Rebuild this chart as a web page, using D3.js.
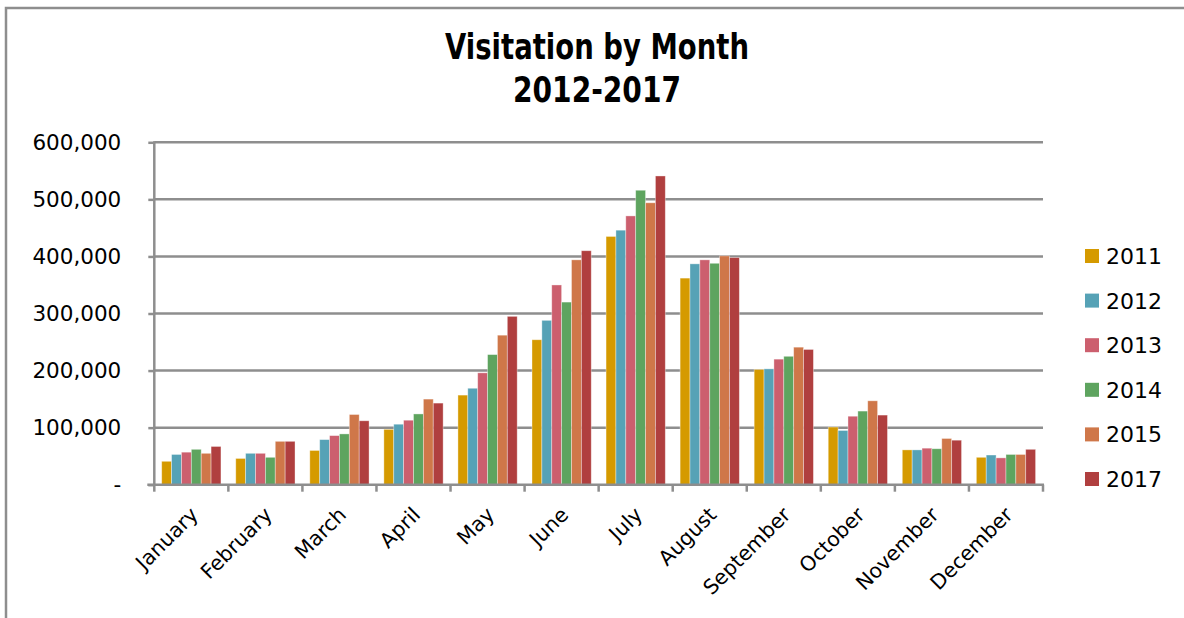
<!DOCTYPE html>
<html>
<head>
<meta charset="utf-8">
<script src="https://cdn.jsdelivr.net/npm/d3@7"></script>
<style>
  body { margin: 0; background: #fff; }
  svg { display: block; }
  .ylab, .xlab, .leg { font-family: "DejaVu Sans", sans-serif; fill: #000; }
  .title { font-family: "DejaVu Sans", sans-serif; font-weight: bold; font-size: 35px; }
</style>
</head>
<body>
<div id="chart"></div>
<script>
(function(){

  //chart data
  var months = ["January", "February", "March", "April", "May", "June", "July",
                "August", "September", "October", "November", "December"];
  var years = ["2011", "2012", "2013", "2014", "2015", "2017"];
  var v2011 = [41000, 46000, 60000, 97000, 157000, 254000, 435000, 362000, 202000, 101000, 61000, 48000];
  var v2012 = [53000, 55000, 79000, 106000, 169000, 288000, 446000, 387000, 203000, 95000, 61000, 52000];
  var v2013 = [57000, 55000, 86000, 113000, 196000, 350000, 471000, 394000, 220000, 120000, 64000, 47000];
  var v2014 = [62000, 48000, 89000, 124000, 228000, 320000, 516000, 388000, 225000, 129000, 63000, 53000];
  var v2015 = [55000, 76000, 123000, 150000, 262000, 394000, 494000, 401000, 241000, 147000, 81000, 53000];
  var v2017 = [67000, 76000, 112000, 143000, 295000, 410000, 541000, 398000, 237000, 122000, 78000, 62000];
  var yTicks = [0, 100000, 200000, 300000, 400000, 500000, 600000];
  var colors = ["#d59a00", "#56a2b6", "#cc5f6e", "#5ea45f", "#cf7749", "#b03f3f"];

  var series = [v2011, v2012, v2013, v2014, v2015, v2017];

  var width = 1184, height = 618;
  var left = 154.3, right = 1043, top = 142.3, bottom = 484.7;

  var svg = d3.select("#chart").append("svg")
      .attr("width", width)
      .attr("height", height);

  //outer frame (only top and left edges visible)
  svg.append("path")
      .attr("d", "M6,620 L6,8 L1190,8")
      .attr("fill", "none")
      .attr("stroke", "#8e8e8e")
      .attr("stroke-width", 2.5);

  //title, squeezed to the condensed width of the original face
  var title = svg.append("text")
      .attr("class", "title")
      .attr("text-anchor", "middle");
  title.append("tspan").attr("x", 597).attr("y", 59)
      .attr("textLength", 304).attr("lengthAdjust", "spacingAndGlyphs")
      .text("Visitation by Month");
  title.append("tspan").attr("x", 597).attr("y", 102)
      .attr("textLength", 168).attr("lengthAdjust", "spacingAndGlyphs")
      .text("2012-2017");

  //scales
  var x = d3.scaleBand()
      .domain(months)
      .range([left, right])
      .paddingInner(0.2)
      .paddingOuter(0.1);

  var xInner = d3.scaleBand()
      .domain(years)
      .range([0, x.bandwidth()]);

  var y = d3.scaleLinear()
      .domain([0, 600000])
      .range([bottom, top]);

  //gridlines
  svg.append("g").selectAll("line")
      .data(yTicks.slice(1))
      .enter()
      .append("line")
      .attr("x1", left)
      .attr("x2", right)
      .attr("y1", function(d){ return y(d); })
      .attr("y2", function(d){ return y(d); })
      .attr("stroke", "#8e8e8e")
      .attr("stroke-width", 2.5);

  //bars
  var groups = svg.append("g").selectAll("g")
      .data(series)
      .enter()
      .append("g")
      .attr("fill", function(d, i){ return colors[i]; });

  groups.selectAll("rect")
      .data(function(d, i){
        return d.map(function(v, j){ return {month: months[j], year: years[i], value: v}; });
      })
      .enter()
      .append("rect")
      .attr("x", function(d){ return x(d.month) + xInner(d.year); })
      .attr("width", xInner.bandwidth())
      .attr("y", function(d){ return y(d.value); })
      .attr("height", function(d){ return bottom - y(d.value); })
      .attr("stroke", "rgba(255,255,255,0.45)")
      .attr("stroke-width", 0.8);

  //y axis
  var yAxis = d3.axisLeft(y)
      .tickValues(yTicks)
      .tickSize(6)
      .tickPadding(27)
      .tickFormat(function(d){ return d === 0 ? "-" : d3.format(",")(d); });

  var ya = svg.append("g")
      .attr("transform", "translate(" + left + ",0)")
      .call(yAxis);
  ya.select(".domain").remove();
  ya.selectAll("line").attr("stroke", "#8e8e8e").attr("stroke-width", 2.5);
  ya.append("line")
      .attr("x1", 0).attr("x2", 0)
      .attr("y1", top - 1).attr("y2", bottom + 1)
      .attr("stroke", "#8e8e8e").attr("stroke-width", 2.5);
  ya.selectAll("text")
      .attr("class", "ylab")
      .style("font-size", "21.5px")
      .attr("fill", "#000")
      .attr("font-family", null);

  //x axis line and ticks on band edges
  svg.append("line")
      .attr("x1", left - 7).attr("x2", right + 1)
      .attr("y1", bottom).attr("y2", bottom)
      .attr("stroke", "#8e8e8e").attr("stroke-width", 2.5);

  var edges = months.map(function(m){ return x(m) - x.step() * x.paddingInner() / 2; });
  edges.push(right);
  svg.append("g").selectAll("line")
      .data(edges)
      .enter()
      .append("line")
      .attr("x1", function(d){ return d; })
      .attr("x2", function(d){ return d; })
      .attr("y1", bottom)
      .attr("y2", bottom + 7)
      .attr("stroke", "#8e8e8e").attr("stroke-width", 2.5);

  //month labels, rotated
  svg.append("g").selectAll("text")
      .data(months)
      .enter()
      .append("text")
      .attr("class", "xlab")
      .style("font-size", "20.5px")
      .attr("text-anchor", "end")
      .attr("transform", function(d){
        return "translate(" + (x(d) + x.bandwidth() / 2 + 8) + "," + 516 + ") rotate(-45)";
      })
      .text(function(d){ return d; });

  //legend
  var legend = svg.append("g").selectAll("g")
      .data(years)
      .enter()
      .append("g")
      .attr("transform", function(d, i){ return "translate(1085," + (249 + i * 44.6) + ")"; });

  legend.append("rect")
      .attr("width", 14)
      .attr("height", 14)
      .attr("fill", function(d, i){ return colors[i]; });

  legend.append("text")
      .attr("class", "leg")
      .style("font-size", "22px")
      .attr("x", 21)
      .attr("y", 15)
      .text(function(d){ return d; });

})();
</script>
</body>
</html>
